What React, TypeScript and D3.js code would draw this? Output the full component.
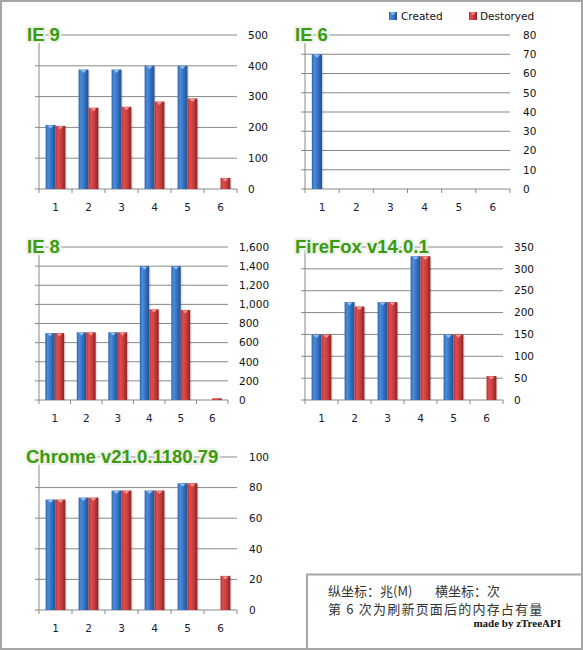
import React from "react";
import * as d3 from "d3";

const categories = ["1", "2", "3", "4", "5", "6"];
const seriesNames = ["Created", "Destoryed"];

const ie9Created = [208, 388, 388, 400, 400, 0];
const ie9Destroyed = [205, 264, 267, 284, 294, 36];
const ie6Created = [70, 0, 0, 0, 0, 0];
const ie6Destroyed = [0, 0, 0, 0, 0, 0];
const ie8Created = [700, 708, 708, 1400, 1400, 0];
const ie8Destroyed = [700, 708, 708, 948, 942, 18];
const ffCreated = [150, 224, 224, 329, 150, 0];
const ffDestroyed = [150, 214, 224, 329, 150, 55];
const chromeCreated = [72.2, 73.5, 78.1, 78.1, 82.9, 0];
const chromeDestroyed = [72.2, 73.5, 78.1, 78.1, 82.9, 22.3];

const ie9Ticks = [0, 100, 200, 300, 400, 500];
const ie6Ticks = [0, 10, 20, 30, 40, 50, 60, 70, 80];
const ie8Ticks = [0, 200, 400, 600, 800, 1000, 1200, 1400, 1600];
const ffTicks = [0, 50, 100, 150, 200, 250, 300, 350];
const chromeTicks = [0, 20, 40, 60, 80, 100];

const titles = ["IE 9", "IE 6", "IE 8", "FireFox v14.0.1", "Chrome v21.0.1180.79"];

const noteLine1a = "纵坐标：兆(M)";
const noteLine1b = "横坐标：次";
const noteLine2 = "第 6 次为刷新页面后的内存占有量";
const noteCredit = "made by zTreeAPI";

const W = 583;
const H = 650;

const layouts = [
  { left: 39, right: 237, top: 35, bottom: 189, labelX: 248, titleX: 27 },
  { left: 305, right: 510, top: 35, bottom: 189, labelX: 523, titleX: 295 },
  { left: 39, right: 228, top: 247, bottom: 400, labelX: 239, titleX: 27 },
  { left: 305, right: 503, top: 247, bottom: 400, labelX: 514, titleX: 295 },
  { left: 39, right: 237, top: 457, bottom: 610, labelX: 249, titleX: 26 },
];

const panelData = [
  { created: ie9Created, destroyed: ie9Destroyed, ticks: ie9Ticks },
  { created: ie6Created, destroyed: ie6Destroyed, ticks: ie6Ticks },
  { created: ie8Created, destroyed: ie8Destroyed, ticks: ie8Ticks },
  { created: ffCreated, destroyed: ffDestroyed, ticks: ffTicks },
  { created: chromeCreated, destroyed: chromeDestroyed, ticks: chromeTicks },
];

const gridColor = "#888888";
const labelFont = "'DejaVu Sans', Verdana, sans-serif";
const fmt = d3.format(",");

function Bar({ x, y, w, h, series }: { x: number; y: number; w: number; h: number; series: number }) {
  if (h <= 0.2) return null;
  const fill = series === 0 ? "url(#gBlue)" : "url(#gRed)";
  const hi = series === 0 ? "#9cc8f4" : "#f4a0a0";
  const tri = h > 3 ? `M${x + 2},${y + 0.5} L${x + w - 2},${y + 0.5} L${x + w / 2},${y + 3.5} Z` : "";
  return (
    <g>
      <rect x={x + 1.5} y={y + 1.5} width={w} height={h - 1.5} fill="#000" opacity={0.1} />
      <rect x={x} y={y} width={w} height={h} fill={fill} />
      {tri && <path d={tri} fill={hi} opacity={0.9} />}
    </g>
  );
}

function Panel({ idx }: { idx: number }) {
  const L = layouts[idx];
  const D = panelData[idx];
  const x = d3.scaleBand().domain(categories).range([L.left, L.right]).padding(0);
  const bw = x.bandwidth();
  const sub = d3.scaleBand().domain(seriesNames).range([0, bw * 0.6]).padding(0);
  const y = d3.scaleLinear().domain([0, D.ticks[D.ticks.length - 1]]).range([L.bottom, L.top]);
  const boundaries = categories.map((c) => x(c) as number).concat([L.right]);
  const seriesVals = [D.created, D.destroyed];
  return (
    <g>
      {D.ticks.map((t) => (
        <line key={"g" + t} x1={L.left - 4} x2={L.right} y1={y(t)} y2={y(t)} stroke={gridColor} strokeWidth={1} />
      ))}
      <line x1={L.left} x2={L.left} y1={L.top} y2={L.bottom} stroke={gridColor} strokeWidth={1} />
      {boundaries.map((b, i) => (
        <line key={"t" + i} x1={b} x2={b} y1={L.bottom} y2={L.bottom + 4} stroke={gridColor} strokeWidth={1} />
      ))}
      {D.ticks.map((t) => (
        <text key={"l" + t} x={L.labelX} y={y(t)} dy="0.36em" fontSize={10.5} fontFamily={labelFont} fill="#111">
          {fmt(t)}
        </text>
      ))}
      {categories.map((c) => (
        <text key={"c" + c} x={(x(c) as number) + bw / 2} y={L.bottom + 22} textAnchor="middle" fontSize={10.5} fontFamily={labelFont} fill="#1a1a3a">
          {c}
        </text>
      ))}
      {seriesVals.map((vals, s) =>
        vals.map((v, i) => {
          const bx = (x(categories[i]) as number) + bw * 0.2 + (sub(seriesNames[s]) as number);
          const top = y(v);
          return <Bar key={`b${s}-${i}`} x={bx} y={top} w={sub.bandwidth()} h={L.bottom - top} series={s} />;
        })
      )}
      <text
        x={L.titleX}
        y={L.top + 6}
        fontSize={18.5}
        fontWeight="bold"
        fontFamily="'Liberation Sans', Arial, sans-serif"
        fill="#3a9a10"
        stroke="#eef2ea"
        strokeWidth={4.5}
        strokeLinejoin="round"
        style={{ paintOrder: "stroke" }}
      >
        {titles[idx]}
      </text>
    </g>
  );
}

export default function App() {
  return (
    <svg width={W} height={H} style={{ position: "absolute", left: 0, top: 0, background: "#fff" }}>
      <defs>
        <linearGradient id="gBlue" x1="0" x2="1" y1="0" y2="0">
          <stop offset="0" stopColor="#2c62ae" />
          <stop offset="0.25" stopColor="#4b8edb" />
          <stop offset="0.6" stopColor="#3670c0" />
          <stop offset="1" stopColor="#22508f" />
        </linearGradient>
        <linearGradient id="gRed" x1="0" x2="1" y1="0" y2="0">
          <stop offset="0" stopColor="#b43232" />
          <stop offset="0.25" stopColor="#e04e4e" />
          <stop offset="0.6" stopColor="#c83c3c" />
          <stop offset="1" stopColor="#8a2424" />
        </linearGradient>
      </defs>
      <rect x={0} y={0} width={W} height={H} fill="#fff" />
      {layouts.map((_, i) => (
        <Panel key={i} idx={i} />
      ))}
      {/* legend */}
      <g fontFamily={labelFont} fontSize={10.5} fill="#111">
        <rect x={389} y={12} width={8} height={8} fill="url(#gBlue)" />
        <path d="M390.5,12.5 L395.5,12.5 L393,15 Z" fill="#9cc8f4" />
        <text x={401} y={20}>{seriesNames[0]}</text>
        <rect x={469} y={12} width={8} height={8} fill="url(#gRed)" />
        <path d="M470.5,12.5 L475.5,12.5 L473,15 Z" fill="#f4a0a0" />
        <text x={480} y={20}>{seriesNames[1]}</text>
      </g>
      {/* note box */}
      <rect x={307} y={574.5} width={W - 307} height={H - 574.5} fill="#fff" stroke="#a6a6a6" strokeWidth={2} />
      <g fontFamily="'Noto Sans CJK SC', sans-serif" fontSize={13} fill="#333">
        <text x={328} y={596}>{noteLine1a}</text>
        <text x={435} y={596}>{noteLine1b}</text>
        <text x={328} y={614} letterSpacing={1.2}>{noteLine2}</text>
      </g>
      <text x={561} y={627} textAnchor="end" fontFamily="'Liberation Serif', serif" fontWeight="bold" fontSize={11} fill="#111">
        {noteCredit}
      </text>
      {/* outer border */}
      <rect x={1} y={1} width={W - 2} height={H - 2} fill="none" stroke="#a6a6a6" strokeWidth={2} />
    </svg>
  );
}
